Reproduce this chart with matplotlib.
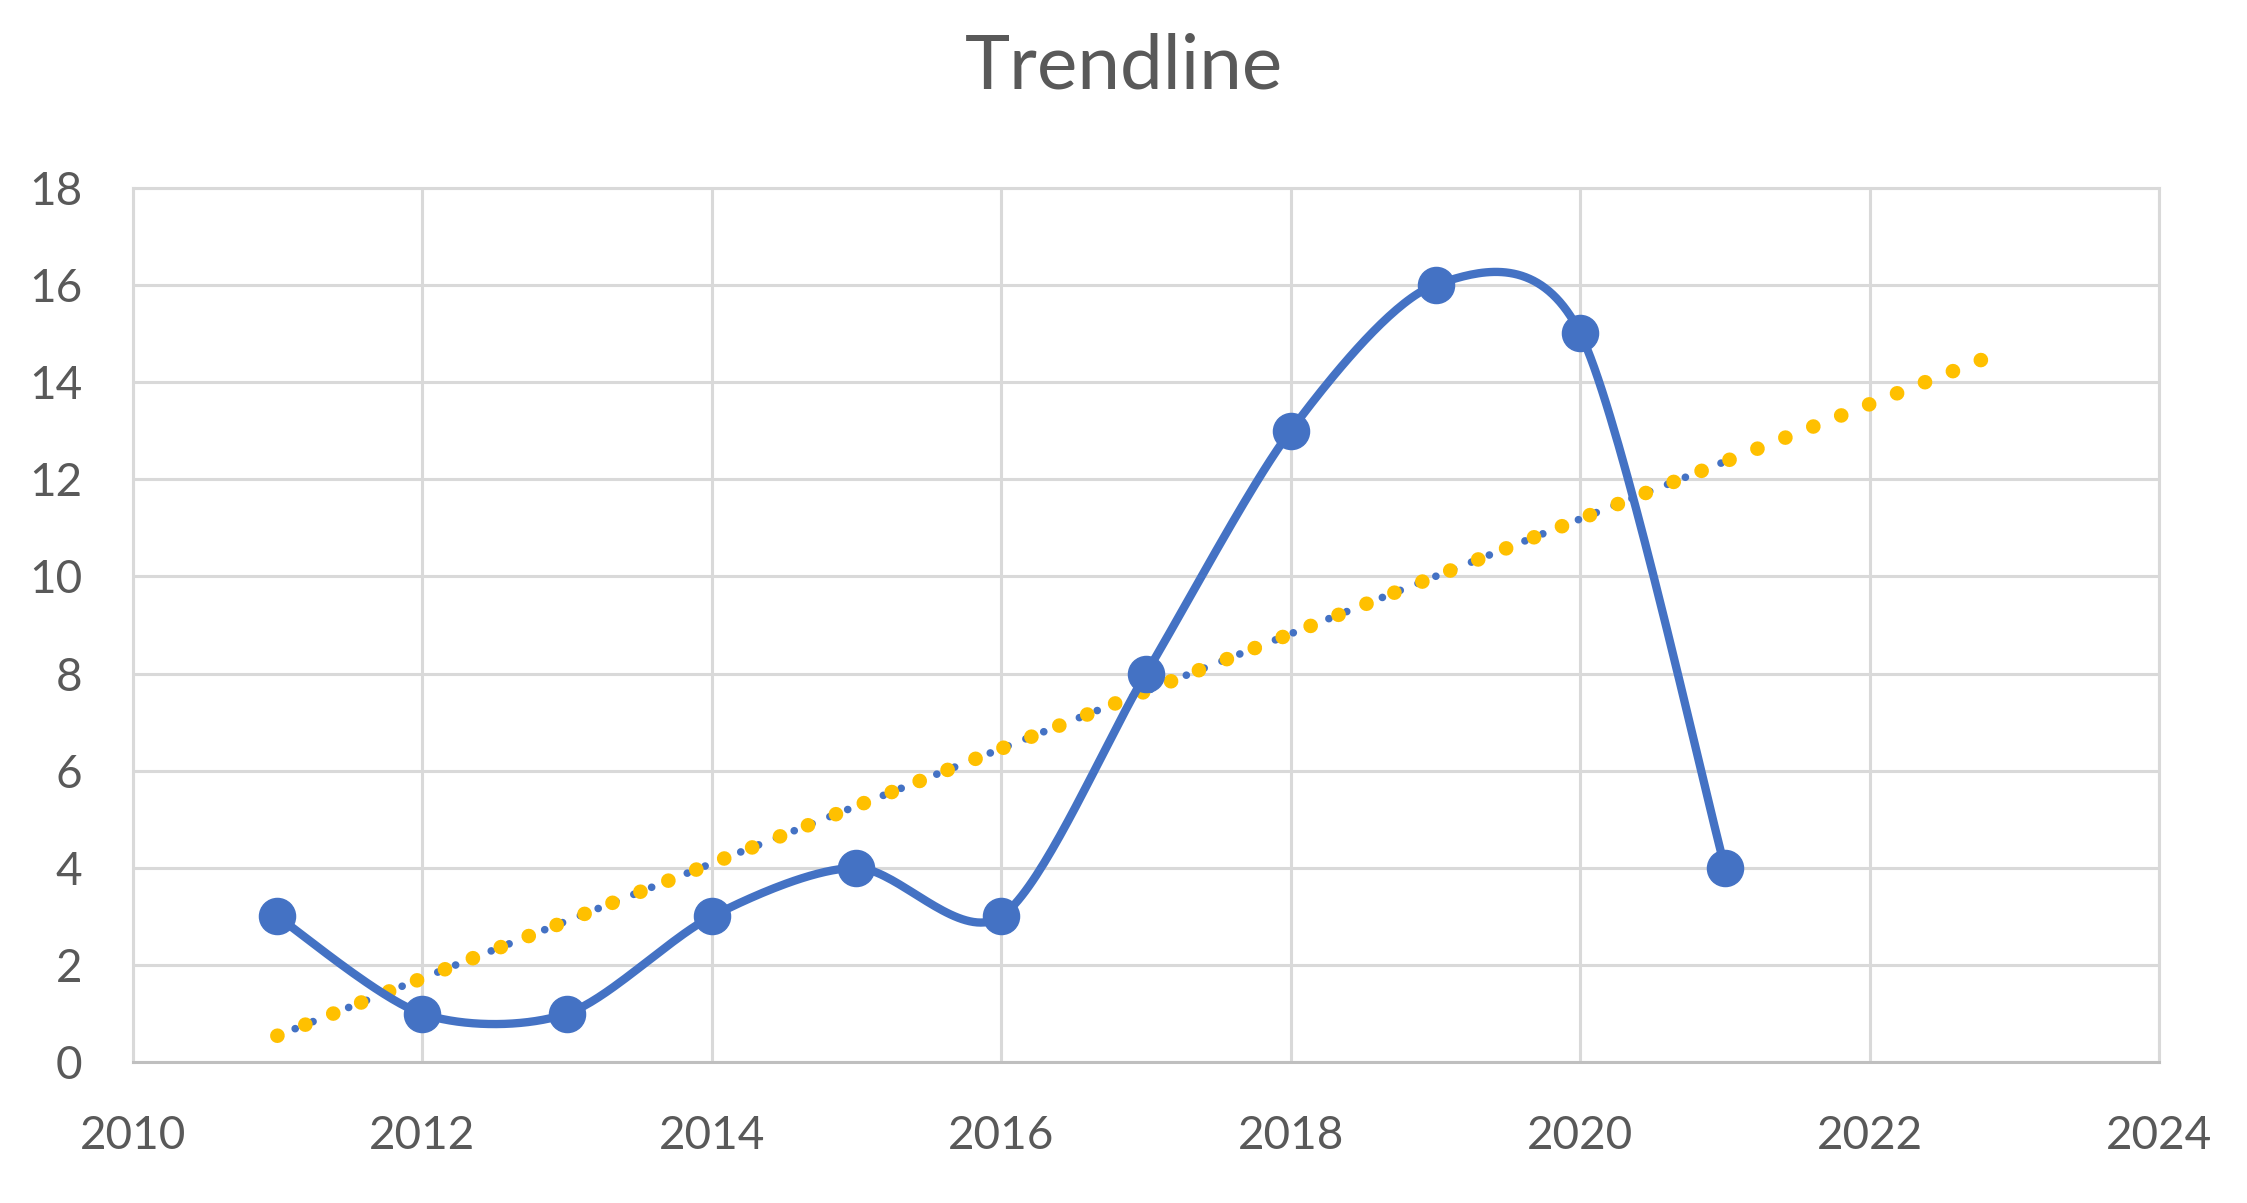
import numpy as np
import matplotlib.pyplot as plt

years = [2011, 2012, 2013, 2014, 2015, 2016, 2017, 2018, 2019, 2020, 2021]
values = [3, 1, 1, 3, 4, 3, 8, 13, 16, 15, 4]
x_ticks = [2010, 2012, 2014, 2016, 2018, 2020, 2022, 2024]
y_ticks = [0, 2, 4, 6, 8, 10, 12, 14, 16, 18]
forecast_forward = 1.95

blue = '#4472C4'
yellow = '#FFC000'
grey_text = '#595959'
grid_col = '#D9D9D9'


def smooth_curve(xs, ys, steps=40):
    # Catmull-Rom style smoothing like Excel's "smoothed line"
    xs = np.asarray(xs, float)
    ys = np.asarray(ys, float)
    px = np.concatenate([[xs[0]], xs, [xs[-1]]])
    py = np.concatenate([[ys[0]], ys, [ys[-1]]])
    out_x, out_y = [], []
    t = np.linspace(0, 1, steps)
    k = 1 / 7
    for i in range(1, len(px) - 2):
        p0x, p1x, p2x, p3x = px[i - 1:i + 3]
        p0y, p1y, p2y, p3y = py[i - 1:i + 3]
        c1x = p1x + (p2x - p0x) * k
        c1y = p1y + (p2y - p0y) * k
        c2x = p2x - (p3x - p1x) * k
        c2y = p2y - (p3y - p1y) * k
        bx = (1 - t) ** 3 * p1x + 3 * (1 - t) ** 2 * t * c1x + 3 * (1 - t) * t ** 2 * c2x + t ** 3 * p2x
        by = (1 - t) ** 3 * p1y + 3 * (1 - t) ** 2 * t * c1y + 3 * (1 - t) * t ** 2 * c2y + t ** 3 * p2y
        out_x.extend(bx)
        out_y.extend(by)
    return np.array(out_x), np.array(out_y)


plt.rcParams['font.family'] = ['Lato', 'DejaVu Sans']

fig = plt.figure(figsize=(22.47, 12.03), dpi=100)
ax = fig.add_axes([0.059, 0.117, 0.902, 0.727])

slope, intercept = np.polyfit(years, values, 1)

# blue linear trendline over data range
tx = np.array([years[0], years[-1]])
ax.plot(tx, slope * tx + intercept, color=blue, lw=5.5,
        linestyle=(0, (0.01, 2.5)), dash_capstyle='round', zorder=3)

# yellow trendline with forward forecast
fx = np.array([years[0], years[-1] + forecast_forward])
ax.plot(fx, slope * fx + intercept, color=yellow, lw=10.5,
        linestyle=(0, (0.01, 2.05)), dash_capstyle='round', zorder=4)

sx, sy = smooth_curve(years, values)
ax.plot(sx, sy, color=blue, lw=6, solid_capstyle='round', zorder=5)
ax.plot(years, values, 'o', color=blue, markersize=26, zorder=6)

ax.set_xlim(2010, 2024)
ax.set_ylim(0, 18)
ax.set_xticks(x_ticks)
ax.set_yticks(y_ticks)
ax.grid(True, color=grid_col, lw=2.2)
ax.set_axisbelow(True)
for s in ax.spines.values():
    s.set_color(grid_col)
    s.set_linewidth(2.2)
ax.spines['bottom'].set_color('#BFBFBF')
ax.tick_params(length=0, labelsize=33, colors=grey_text)
ax.tick_params(axis='x', pad=38)
ax.tick_params(axis='y', pad=36)

fig.text(0.5, 0.944, 'Trendline', ha='center', va='center', fontsize=55, color=grey_text)

fig.savefig('out.png', dpi=100)
